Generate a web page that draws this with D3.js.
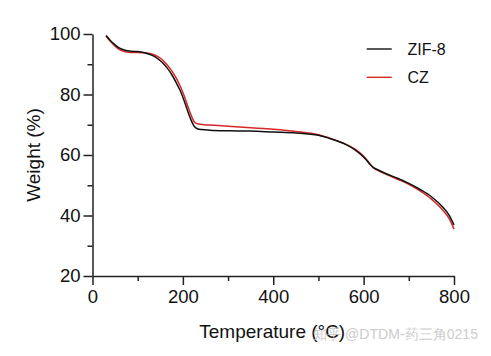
<!DOCTYPE html>
<html>
<head>
<meta charset="utf-8">
<script src="https://cdn.jsdelivr.net/npm/d3@7"></script>
<style>
  html, body { margin: 0; padding: 0; background: #fff; }
  svg { display: block; }
  text { font-family: "Liberation Sans", Arial, sans-serif; fill: #111; }
</style>
</head>
<body>
<svg id="chart" width="491" height="356"></svg>
<script>
// ---- Data ----
const temperature = [30, 40, 50, 60, 72, 85, 100, 115, 131, 145, 155, 165, 175, 185, 194, 202, 210, 218, 225, 232, 242, 260, 300, 350, 400, 450, 500, 530, 560, 580, 595, 605, 615, 622, 630, 650, 675, 700, 725, 750, 775, 790, 800];
const zif8Weight = [99.5, 97.8, 96.4, 95.3, 94.6, 94.3, 94.2, 93.8, 93.0, 91.8, 90.5, 88.8, 86.7, 84.0, 81.3, 78.3, 74.8, 71.6, 69.5, 68.7, 68.4, 68.2, 68.0, 67.9, 67.6, 67.3, 66.5, 65.2, 63.5, 61.8, 60.0, 58.5, 56.8, 55.8, 55.2, 53.8, 52.3, 50.6, 48.6, 46.2, 42.8, 39.9, 36.9];
const czWeight   = [99.3, 97.5, 96.0, 94.8, 94.1, 93.9, 93.9, 93.8, 93.4, 92.5, 91.4, 89.8, 87.9, 85.5, 82.8, 79.9, 76.5, 73.2, 71.0, 70.3, 70.1, 69.9, 69.5, 69.0, 68.5, 67.8, 66.7, 65.3, 63.6, 62.0, 60.3, 58.8, 56.9, 55.7, 55.0, 53.6, 52.0, 50.3, 48.1, 45.4, 41.8, 38.8, 35.5];
const seriesNames = ["ZIF-8", "CZ"];
const xTicks = [0, 200, 400, 600, 800];
const xMinorTicks = [100, 300, 500, 700];
const yTicks = [20, 40, 60, 80, 100];
const yMinorTicks = [30, 50, 70, 90];
const xTitle = "Temperature (°C)";
const yTitle = "Weight (%)";
const watermark = "知乎 @DTDM-药三角0215";

// ---- Layout ----
const svg = d3.select("#chart");
const margin = { left: 92.5, top: 34, right: 491 - 454, bottom: 356 - 276 };
const W = 491 - margin.left - margin.right;
const H = 356 - margin.top - margin.bottom;

const x = d3.scaleLinear().domain([0, 800]).range([0, W]);
const y = d3.scaleLinear().domain([20, 100]).range([H, 0]);

const g = svg.append("g").attr("transform", `translate(${margin.left},${margin.top})`);

// Axes
const axisColor = "#222";
const xAxis = g.append("g").attr("transform", `translate(0,${H})`)
  .call(d3.axisBottom(x).tickValues(xTicks).tickSize(9).tickPadding(5).tickSizeOuter(0));
const xMinor = g.append("g").attr("transform", `translate(0,${H})`)
  .call(d3.axisBottom(x).tickValues(xMinorTicks).tickSize(5).tickFormat("").tickSizeOuter(0));
const yAxis = g.append("g")
  .call(d3.axisLeft(y).tickValues(yTicks).tickSize(9).tickPadding(3).tickSizeOuter(0));
const yMinor = g.append("g")
  .call(d3.axisLeft(y).tickValues(yMinorTicks).tickSize(5).tickFormat("").tickSizeOuter(0));
xMinor.select(".domain").remove();
yMinor.select(".domain").remove();

[xAxis, xMinor, yAxis, yMinor].forEach(a => {
  a.selectAll("path, line").attr("stroke", axisColor).attr("stroke-width", 1.5);
  a.selectAll("text").attr("font-size", 18.5).attr("fill", "#111")
    .attr("font-family", "'Liberation Sans', Arial, sans-serif");
});

// Lines
const lineGen = (vals) => d3.line()
  .x((d, i) => x(temperature[i]))
  .y((d) => y(d))
  .curve(d3.curveMonotoneX)(vals);

const colors = ["#111111", "#d62828"];
g.append("path").attr("d", lineGen(czWeight))
  .attr("fill", "none").attr("stroke", colors[1]).attr("stroke-width", 1.5);
g.append("path").attr("d", lineGen(zif8Weight))
  .attr("fill", "none").attr("stroke", colors[0]).attr("stroke-width", 1.5);

// Legend
const legend = svg.append("g");
seriesNames.forEach((name, i) => {
  const ly = 49 + i * 28.3;
  legend.append("line").attr("x1", 366.7).attr("x2", 391.7).attr("y1", ly).attr("y2", ly)
    .attr("stroke", colors[i]).attr("stroke-width", 1.4);
  legend.append("text").attr("x", 407.5).attr("y", ly + 6)
    .attr("font-size", 16).text(name);
});

// Axis titles
svg.append("text").attr("x", margin.left + W / 2 - 1).attr("y", 338)
  .attr("text-anchor", "middle").attr("font-size", 19).text(xTitle);
svg.append("text").attr("transform", `translate(40,${margin.top + H / 2}) rotate(-90)`)
  .attr("text-anchor", "middle").attr("font-size", 19).text(yTitle);

// Watermark
svg.append("text").attr("x", 313).attr("y", 339)
  .attr("font-size", 14).attr("font-family", "'Noto Sans CJK SC', 'Liberation Sans', sans-serif")
  .attr("textLength", 165).attr("lengthAdjust", "spacingAndGlyphs")
  .style("fill", "#c4c4c4").attr("opacity", 0.85).text(watermark);
</script>
</body>
</html>
